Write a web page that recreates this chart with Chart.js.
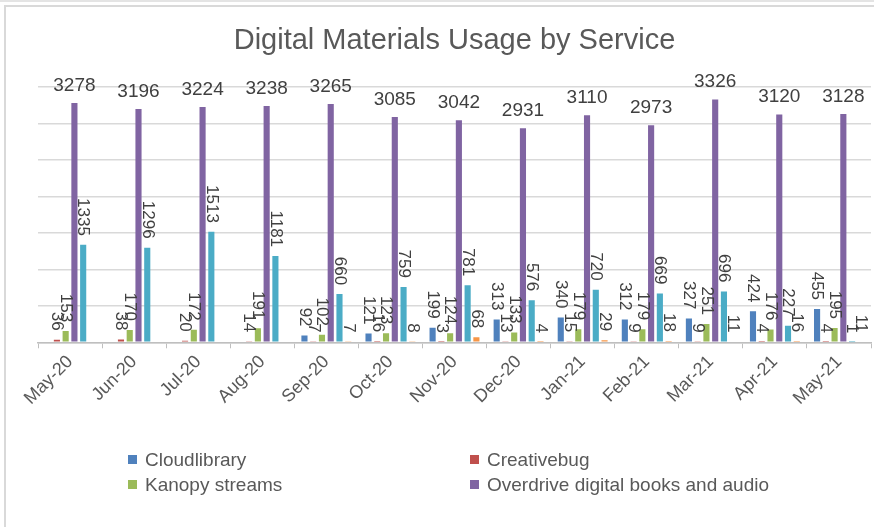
<!DOCTYPE html>
<html>
<head>
<meta charset="utf-8">
<script src="https://cdn.jsdelivr.net/npm/chart.js@4/dist/chart.umd.min.js"></script>
<style>
  html, body { margin: 0; padding: 0; background: #fff; }
  #wrap { position: relative; width: 874px; height: 527px; overflow: hidden; }
  #frame { position: absolute; left: 4px; top: 5px; right: -2px; bottom: -2px;
           border-left: 2px solid #d9d9d9; border-top: 2px solid #d9d9d9; }
  #topline { position: absolute; left: 0; top: 0; width: 874px; height: 2px; background: #e4e4e4; }
  canvas { position: absolute; left: 0; top: 0; }
  #legend { position: absolute; left: 128px; top: 449px; width: 700px;
            font-family: "Liberation Sans", Arial, sans-serif; font-size: 19px; color: #595959; }
  .item { position: absolute; white-space: nowrap; height: 22px; line-height: 22px; }
  .item span.box { display: inline-block; width: 9px; height: 9px; margin-right: 8px; vertical-align: 2px; }
</style>
</head>
<body>
<div id="wrap">
  <div id="topline"></div>
  <div id="frame"></div>
  <canvas id="chart" width="874" height="527"></canvas>
  <div id="legend"></div>
</div>
<script>
// categories and series
const months = ['May-20', 'Jun-20', 'Jul-20', 'Aug-20', 'Sep-20', 'Oct-20', 'Nov-20',
                'Dec-20', 'Jan-21', 'Feb-21', 'Mar-21', 'Apr-21', 'May-21'];
const cloudlibrary = [null, null, null, null, 92, 121, 199, 313, 340, 312, 327, 424, 455];
const creativebug  = [36, 38, 20, 14, 7, 16, 3, 13, 15, 9, 9, 4, 4];
const kanopy       = [153, 170, 172, 191, 102, 123, 124, 133, 179, 179, 251, 176, 195];
const overdrive    = [3278, 3196, 3224, 3238, 3265, 3085, 3042, 2931, 3110, 2973, 3326, 3120, 3128];
const series5      = [1335, 1296, 1513, 1181, 660, 759, 781, 576, 720, 669, 696, 227, 1];
const series6      = [null, null, null, null, 7, 8, 68, 4, 29, 18, 11, 16, 11];

const seriesNames  = ['Cloudlibrary', 'Creativebug', 'Kanopy streams',
                      'Overdrive digital books and audio', 'Series 5', 'Series 6'];
const seriesColors = ['#4F81BD', '#C0504D', '#9BBB59', '#8064A2', '#4BACC6', '#F79646'];
const legendCount = 4;   // only the first four show in the reference legend

const allSeries = [cloudlibrary, creativebug, kanopy, overdrive, series5, series6];

// value labels: overdrive flat on top, the rest turned on their side
const barLabels = {
  id: 'barLabels',
  afterDatasetsDraw(chart) {
    const ctx = chart.ctx;
    ctx.save();
    ctx.fillStyle = '#404040';
    chart.data.datasets.forEach((ds, di) => {
      const meta = chart.getDatasetMeta(di);
      meta.data.forEach((bar, i) => {
        const v = ds.data[i];
        if (v === null || v === undefined) return;
        if (di === 3) {
          ctx.font = '19px "Liberation Sans", Arial, sans-serif';
          ctx.textAlign = 'center';
          ctx.textBaseline = 'bottom';
          ctx.fillText(String(v), bar.x, bar.y - 8);
        } else {
          ctx.save();
          ctx.font = '17px "Liberation Sans", Arial, sans-serif';
          ctx.translate(bar.x, bar.y - 9);
          ctx.rotate(Math.PI / 2);
          ctx.textAlign = 'right';
          ctx.textBaseline = 'middle';
          ctx.fillText(String(v), 0, 0);
          ctx.restore();
        }
      });
    });
    ctx.restore();
  }
};

const ctx = document.getElementById('chart').getContext('2d');
const chart = new Chart(ctx, {
  type: 'bar',
  data: {
    labels: months,
    datasets: allSeries.map((d, i) => ({
      label: seriesNames[i],
      data: d,
      backgroundColor: seriesColors[i],
      borderWidth: 0,
      barPercentage: 0.7,
      categoryPercentage: 0.82
    }))
  },
  options: {
    responsive: false,
    animation: false,
    layout: { padding: { left: 38, right: 3, top: 0, bottom: 115 } },
    plugins: {
      legend: { display: false },
      tooltip: { enabled: false },
      title: {
        display: true,
        text: 'Digital Materials Usage by Service',
        color: '#595959',
        font: { family: '"Liberation Sans", Arial, sans-serif', size: 29, weight: 'normal' },
        padding: { top: 24, bottom: 28 }
      }
    },
    scales: {
      x: {
        grid: { display: true, drawOnChartArea: false, drawTicks: true, tickLength: 6, color: '#bfbfbf' },
        border: { color: '#bfbfbf', width: 1.5 },
        ticks: {
          color: '#595959',
          font: { family: '"Liberation Sans", Arial, sans-serif', size: 18 },
          minRotation: 45, maxRotation: 45, padding: 3
        }
      },
      y: {
        min: 0, max: 3500,
        ticks: { display: false, stepSize: 500 },
        grid: { color: '#d9d9d9', lineWidth: 1.5, drawTicks: false },
        border: { display: false }
      }
    }
  },
  plugins: [barLabels]
});

// legend in two columns like the reference
const legend = document.getElementById('legend');
const legendPos = [[0, 0], [342, 0], [0, 25], [342, 25]];
for (let i = 0; i < legendCount; i++) {
  const el = document.createElement('div');
  el.className = 'item';
  el.style.left = legendPos[i][0] + 'px';
  el.style.top = legendPos[i][1] + 'px';
  const box = document.createElement('span');
  box.className = 'box';
  box.style.background = seriesColors[i];
  el.appendChild(box);
  el.appendChild(document.createTextNode(seriesNames[i]));
  legend.appendChild(el);
}
</script>
</body>
</html>
